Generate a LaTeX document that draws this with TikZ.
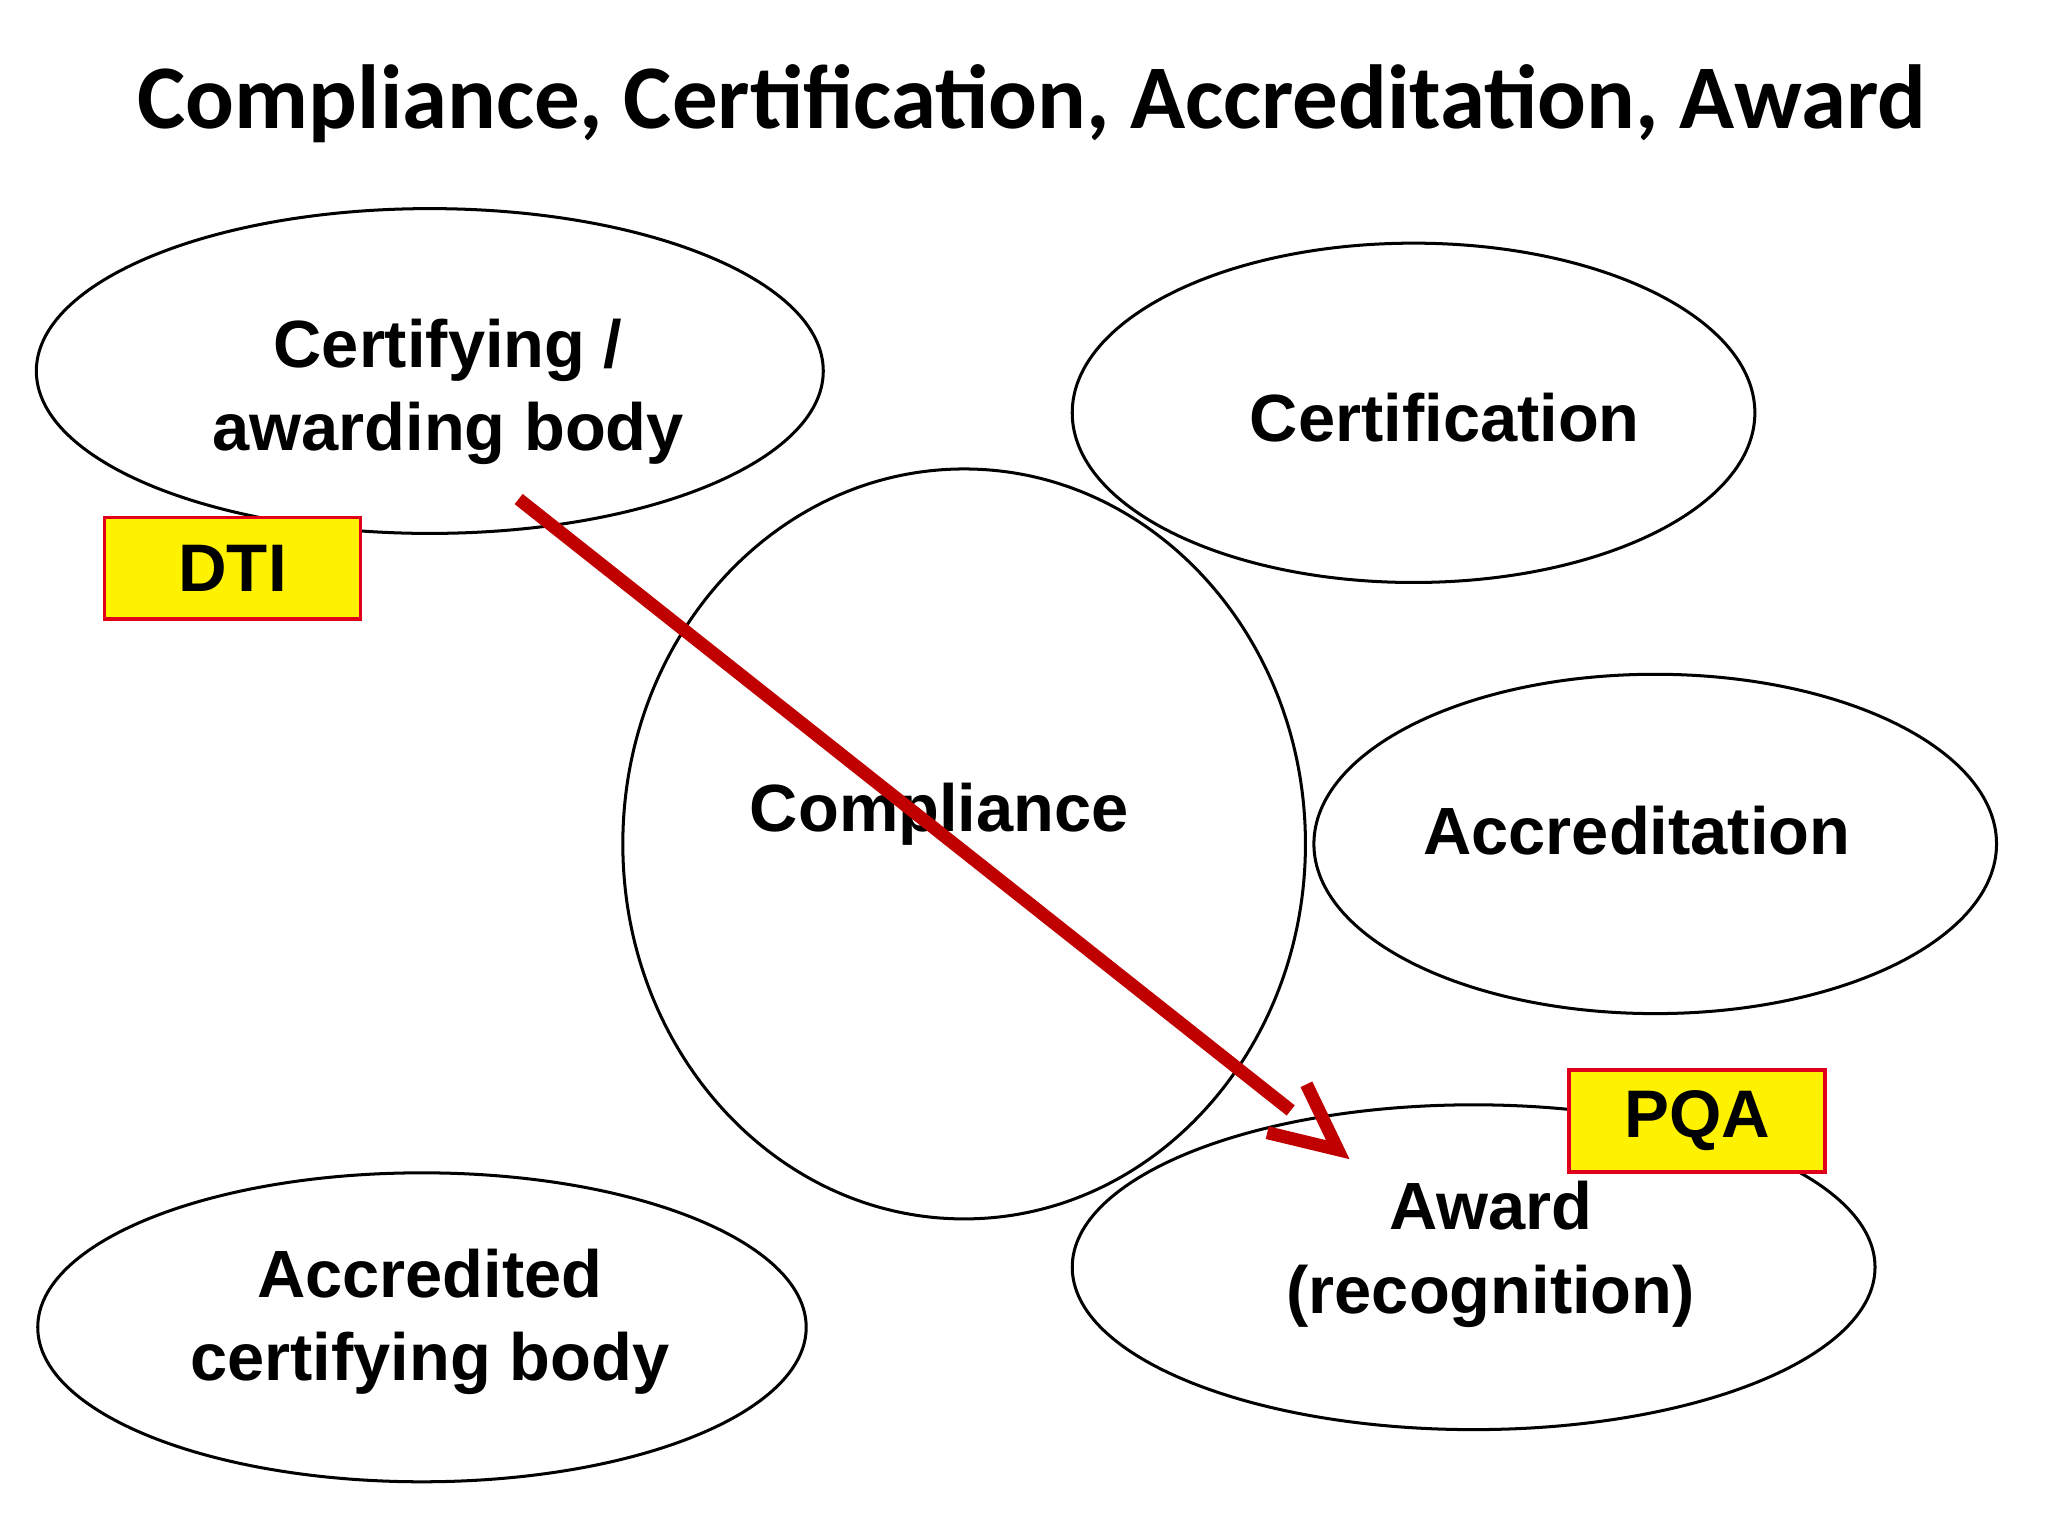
\documentclass[tikz,border=0pt]{standalone}
\usepackage{fontspec}
\setmainfont{Liberation Sans}
\newfontfamily\titlefont{Carlito}
\usetikzlibrary{shapes.geometric}
\definecolor{arrred}{HTML}{C00000}
\definecolor{boxred}{HTML}{E0001B}
\tikzset{
  ell/.style={draw=black, line width=0.65pt, ellipse, inner sep=0pt},
  lbl/.style={font=\fontsize{14.4}{18}\selectfont\bfseries, align=center},
  tagbox/.style={draw=boxred, fill=yellow, line width=0.8pt, inner sep=0pt,
    minimum width=1.94cm, minimum height=0.77cm, font=\fontsize{14.5}{17}\selectfont\bfseries},
  redline/.style={draw=arrred, line width=2.8pt}
}
\begin{document}
\begin{tikzpicture}[x=0.01cm,y=-0.01cm]
\useasboundingbox (0,0) rectangle (1552,1164);
\begin{scope}[scale=0.99]
\node[font=\titlefont\fontsize{19.6}{24}\selectfont\bfseries] (title) at (790,79) {Compliance, Certification, Accreditation, Award};
\node[ell, minimum width=5.96cm, minimum height=2.46cm] (cb) at (329,284) {};
\node[lbl] (cbt) at (343,300) {Certifying /\\awarding body};
\node[ell, minimum width=5.17cm, minimum height=2.57cm] (cert) at (1082,316) {};
\node[lbl] (certt) at (1106,320) {Certification};
\node[ell, minimum width=5.17cm, minimum height=5.68cm] (comp) at (738,646) {};
\node[lbl] (compt) at (719,623) {Compliance};
\node[ell, minimum width=5.17cm, minimum height=2.57cm] (accr) at (1267,646) {};
\node[lbl] (accrt) at (1253,636) {Accreditation};
\node[ell, minimum width=6.08cm, minimum height=2.46cm] (award) at (1128,970) {};
\node[lbl] (awardt) at (1141,960) {Award\\(recognition)};
\node[ell, minimum width=5.82cm, minimum height=2.34cm] (acb) at (323,1016) {};
\node[lbl] (acbt) at (329,1012) {Accredited\\certifying body};
\node[tagbox] (dti) at (178,435) {DTI};
\node[tagbox] (pqa) at (1299,858) {PQA};
\coordinate (a0) at (397,382);
\coordinate (a1) at (988,850);
\coordinate (b1) at (1000,830);
\coordinate (tip) at (1024,880);
\coordinate (b2) at (970,867);
\draw[redline] (a0) -- (a1);
\draw[redline, line join=miter] (b1) -- (tip) -- (b2);
\end{scope}
\end{tikzpicture}
\end{document}
